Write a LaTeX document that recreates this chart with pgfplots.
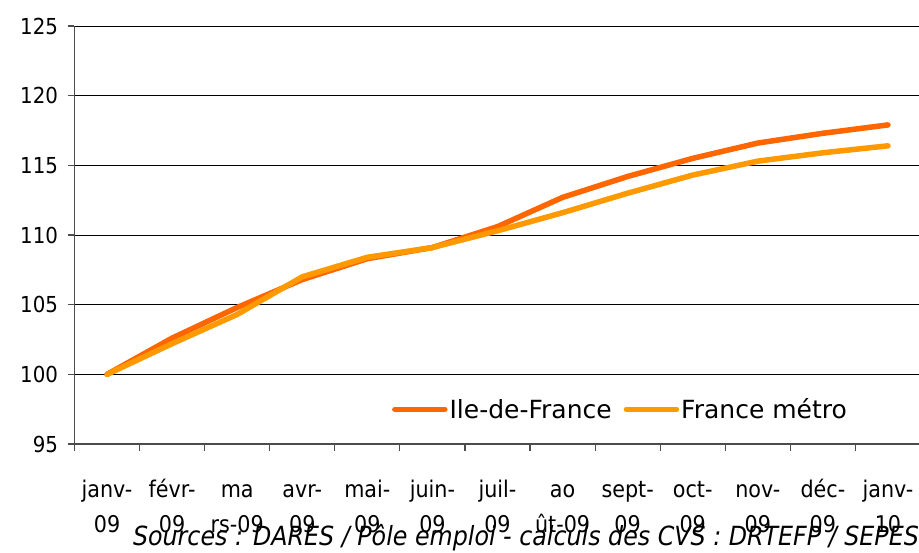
\documentclass[border=0pt]{standalone}
\usepackage{fontspec}
\setmainfont{DejaVu Sans}
\newfontfamily\tickfont{DejaVu Sans}[FakeStretch=0.9]
\usepackage{pgfplots}
\pgfplotsset{compat=1.18}
\usetikzlibrary{calc}
\definecolor{idf}{HTML}{FF6600}
\definecolor{fra}{HTML}{FF9900}
\begin{document}
\begin{tikzpicture}
\begin{axis}[
  name=ax, at={(0,0)}, anchor=south west,
  scale only axis, width=846pt, height=418pt,
  xmin=-0.5, xmax=12.5, ymin=95, ymax=125,
  ytick={95,100,...,125},
  /pgf/number format/assume math mode=true,
  ymajorgrids, grid style={black, line width=0.8pt},
  axis x line*=bottom, axis y line*=left,
  axis line style={draw=black!70, line width=1.2pt, -},
  xtick={-0.5,0.5,...,12.5},
  x tick label as interval,
  xticklabels={{\strut janv-\\\strut 09},{\strut févr-\\\strut 09},{\strut ma\\\strut rs-09},{\strut avr-\\\strut 09},{\strut mai-\\\strut 09},{\strut juin-\\\strut 09},{\strut juil-\\\strut 09},{\strut ao\\\strut ût-09},{\strut sept-\\\strut 09},{\strut oct-\\\strut 09},{\strut nov-\\\strut 09},{\strut déc-\\\strut 09},{\strut janv-\\\strut 10}},
  tick align=outside, major tick length=7pt,
  tick style={draw=black!70, line width=1.2pt},
  xticklabel style={align=center, anchor=north, inner sep=0pt, font=\tickfont\fontsize{23}{35}\selectfont, yshift=-22pt},
  yticklabel style={font=\tickfont\fontsize{22}{26}\selectfont, xshift=-6pt},
  clip=false,
  legend style={at={(axis cs:7.89,97.49)}, anchor=center, draw=none, fill=none,
    font=\fontsize{25}{28}\selectfont, legend columns=2,
    /tikz/every even column/.append style={column sep=10pt}},
  legend image code/.code={\draw[#1, line width=5.5pt, line cap=round] (0pt,0pt) -- (50pt,0pt);},
]
\addplot[idf, line width=5.5pt, line cap=round, line join=round] coordinates {
(0,100) (1,102.6) (2,104.8) (3,106.8) (4,108.3) (5,109.1) (6,110.6) (7,112.7) (8,114.2) (9,115.5) (10,116.6) (11,117.3) (12,117.9)};
\addlegendentry{Ile-de-France}
\addplot[fra, line width=5.5pt, line cap=round, line join=round] coordinates {
(0,100) (1,102.2) (2,104.3) (3,107.0) (4,108.4) (5,109.1) (6,110.3) (7,111.6) (8,113.0) (9,114.3) (10,115.3) (11,115.9) (12,116.4)};
\addlegendentry{France métro}
\end{axis}
\node[anchor=base east, font=\tickfont\fontsize{26.4}{30}\selectfont\itshape, inner sep=0pt] at ($(ax.south west)+(844.5pt,-102pt)$) {Sources : DARES / Pôle emploi - calculs des CVS : DRTEFP / SEPES};
\pgfresetboundingbox
\path ($(ax.south west)+(-74.5pt,-109pt)$) rectangle ++(919pt,553pt);
\end{tikzpicture}
\end{document}
